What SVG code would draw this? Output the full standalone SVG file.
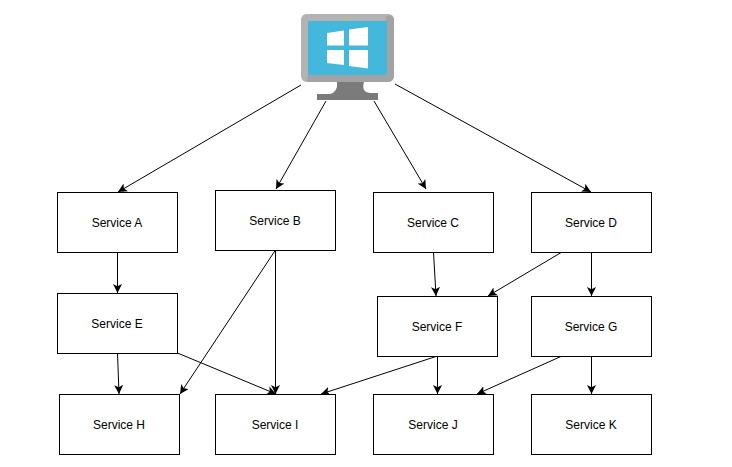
<svg xmlns="http://www.w3.org/2000/svg" width="732" height="467" viewBox="0 0 732 467">
<style>
.b{fill:#fff;stroke:#000;stroke-width:1}
.t{font-family:"Liberation Sans",Arial,sans-serif;font-size:12px;fill:#000;text-anchor:middle}
.c line{stroke:#000;stroke-width:1;marker-end:url(#a)}
</style>
<defs><marker id="a" markerUnits="userSpaceOnUse" markerWidth="11" markerHeight="10" refX="9" refY="4.500" orient="auto"><path d="M0 0L9 4.500L0 9L2.200 4.500Z" fill="#000"/></marker></defs>
<rect width="732" height="467" fill="#fff"/>
<g id="computer">
<path d="M301 20Q301 14 307 14H388Q394 14 394 20V75Q394 82 388 82H307Q301 82 301 75Z" fill="#b3b3b3"/>
<path d="M394 20V75Q394 82 388 82H307L308 75L386 20L386 16Q394 14 394 20Z" fill="#a3a3a5"/>
<rect x="308" y="21" width="79" height="54" fill="#44b7dc"/>
<path d="M327 33L344 30.500V45.500H327ZM349 29.500L368 27V45.500H349ZM327 50H344V65L327 63ZM349 50H368V68.500L349 66Z" fill="#fff"/>
<circle cx="347" cy="18" r="1" fill="#b5d334"/>
<path d="M337 82H364Q361 92 370 93H378V100H317V94H330Q338 92 337 82Z" fill="#7b7b7b"/>
</g>
<g class="c">
<line x1="301" y1="85" x2="118" y2="192"/>
<line x1="326" y1="101" x2="276" y2="189"/>
<line x1="374" y1="101" x2="426" y2="189"/>
<line x1="395" y1="84" x2="591" y2="192"/>
<line x1="117.500" y1="252" x2="117.500" y2="293"/>
<line x1="275.500" y1="250" x2="180" y2="394"/>
<line x1="275.500" y1="250" x2="275.500" y2="394"/>
<line x1="433.500" y1="252" x2="436" y2="296"/>
<line x1="562" y1="252" x2="488" y2="296"/>
<line x1="591.500" y1="252" x2="591.500" y2="296"/>
<line x1="117.500" y1="353" x2="119" y2="394"/>
<line x1="177.500" y1="353" x2="276" y2="394"/>
<line x1="437.500" y1="356" x2="321" y2="394"/>
<line x1="437.500" y1="356" x2="437.500" y2="394"/>
<line x1="562" y1="356" x2="477" y2="394"/>
<line x1="591.500" y1="356" x2="591.500" y2="394"/>
</g>
<g id="service-a"><rect class="b" x="57.500" y="192.500" width="120" height="60"/><text class="t" x="117" y="227">Service A</text></g>
<g id="service-b"><rect class="b" x="215.500" y="190.500" width="120" height="60"/><text class="t" x="275" y="225">Service B</text></g>
<g id="service-c"><rect class="b" x="373.500" y="192.500" width="120" height="60"/><text class="t" x="433" y="227">Service C</text></g>
<g id="service-d"><rect class="b" x="531.500" y="192.500" width="120" height="60"/><text class="t" x="591" y="227">Service D</text></g>
<g id="service-e"><rect class="b" x="57.500" y="293.500" width="120" height="60"/><text class="t" x="117" y="328">Service E</text></g>
<g id="service-f"><rect class="b" x="377.500" y="296.500" width="120" height="60"/><text class="t" x="437" y="331">Service F</text></g>
<g id="service-g"><rect class="b" x="531.500" y="296.500" width="120" height="60"/><text class="t" x="591" y="331">Service G</text></g>
<g id="service-h"><rect class="b" x="59.500" y="394.500" width="120" height="60"/><text class="t" x="119" y="429">Service H</text></g>
<g id="service-i"><rect class="b" x="215.500" y="394.500" width="120" height="60"/><text class="t" x="275" y="429">Service I</text></g>
<g id="service-j"><rect class="b" x="373.500" y="394.500" width="120" height="60"/><text class="t" x="433" y="429">Service J</text></g>
<g id="service-k"><rect class="b" x="531.500" y="394.500" width="120" height="60"/><text class="t" x="591" y="429">Service K</text></g>
</svg>
